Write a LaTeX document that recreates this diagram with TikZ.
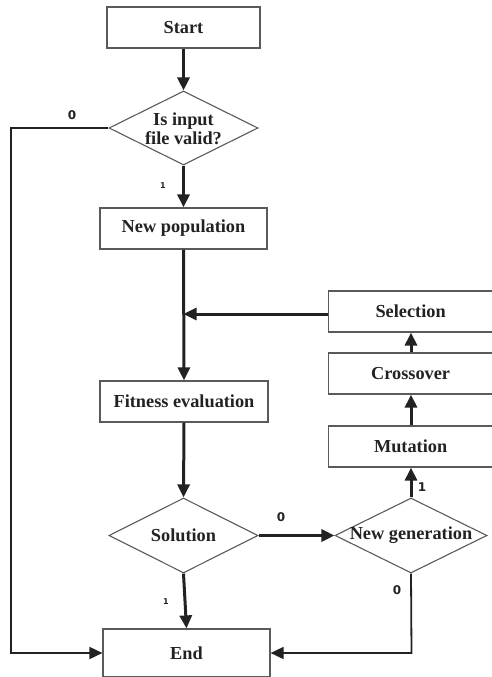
\documentclass[tikz,border=0pt]{standalone}
\usepackage{fontspec}
\setmainfont{Liberation Serif}
\newfontfamily\labelfont{DejaVu Sans}
\usetikzlibrary{arrows.meta,shapes.geometric}

\definecolor{edgegray}{HTML}{5A5A5A}
\definecolor{inkdark}{HTML}{222222}

\tikzset{
  boxtext/.style={font=\fontsize{18.3}{20}\selectfont\bfseries, text=inkdark},
  procbox/.style={draw=edgegray, line width=1.2pt, fill=white, inner sep=0pt, boxtext},
  decision/.style={diamond, draw=edgegray, line width=1.1pt, fill=white, inner sep=0pt},
  decisiontext/.style={boxtext, align=center, inner sep=0pt},
  flow/.style={draw=inkdark, line width=3pt, -{Triangle[length=13pt,width=12pt]}},
  loopline/.style={draw=inkdark, line width=1.8pt, -{Triangle[length=13pt,width=12pt]}},
  tag/.style={font=\labelfont\bfseries\fontsize{12}{12}\selectfont, text=inkdark, inner sep=0pt},
  smalltag/.style={font=\labelfont\bfseries\fontsize{8}{8}\selectfont, text=inkdark, inner sep=0pt},
}

\begin{document}
\begin{tikzpicture}[x=1pt,y=-1pt]
  \useasboundingbox (0,0) rectangle (492,677);
  \clip (0,0) rectangle (492,677);

  % main column
  \node[procbox, minimum width=153pt, minimum height=41pt] (start) at (183.5,27.5) {Start};
  \node[decision, minimum width=149pt, minimum height=74pt] (valid) at (183.5,128) {};
  \node[decisiontext] (validtext) at (183.5,129) {Is input\\[-1pt]file valid?};
  \node[procbox, minimum width=167pt, minimum height=41pt] (newpop) at (183.5,228.5) {New population};
  \node[procbox, minimum width=168pt, minimum height=41pt] (fitness) at (184,401.5) {Fitness evaluation};
  \node[decision, minimum width=149pt, minimum height=75pt] (solution) at (183.5,535.5) {};
  \node[decisiontext] (solutiontext) at (183.5,535.5) {Solution};
  \node[procbox, minimum width=167pt, minimum height=48pt] (end) at (186.5,653) {End};

  % genetic operators column
  \node[procbox, minimum width=180pt, minimum height=41pt, anchor=west] (selection) at (328,311.5) {\hspace{-16pt}Selection};
  \node[procbox, minimum width=180pt, minimum height=41pt, anchor=west] (crossover) at (328,373.5) {\hspace{-16pt}Crossover};
  \node[procbox, minimum width=180pt, minimum height=41pt, anchor=west] (mutation) at (328,446.5) {\hspace{-16pt}Mutation};
  \node[decision, minimum width=152pt, minimum height=75pt] (newgen) at (411,535.5) {};
  \node[decisiontext] (newgentext) at (411,535.5) {New generation};

  \coordinate (join) at (183.5,314);
  \coordinate (leftrail) at (11,128);
  \coordinate (leftbottom) at (11,653);
  \coordinate (rightbottom) at (411.5,653);

  % forward flow
  \draw[flow] (start.south) -- (valid.north);
  \draw[flow] (valid.south) -- (newpop.north);
  \draw[flow] (newpop.south) -- (fitness.north);
  \draw[flow] (fitness.south) -- (solution.north);
  \draw[flow] (solution.south) -- (end.north);
  \draw[flow] (solution.east) -- (newgen.west);
  \draw[flow] (newgen.north) -- (newgen.north |- mutation.south);
  \draw[flow] (mutation.north -| newgen.north) -- (crossover.south -| newgen.north);
  \draw[flow] (crossover.north -| newgen.north) -- (selection.south -| newgen.north);
  \draw[flow] (selection.west |- join) -- (join);

  % exits to End
  \draw[loopline] (valid.west) -- (leftrail) -- (leftbottom) -- (end.west |- leftbottom);
  \draw[loopline] (newgen.south) -- (rightbottom) -- (end.east |- rightbottom);

  % branch labels
  \node[tag] (l0a) at (72,115) {0};
  \node[smalltag] (l1a) at (163,186) {1};
  \node[tag] (l0b) at (281,517) {0};
  \node[tag] (l1b) at (422,487) {1};
  \node[tag] (l0c) at (397,590) {0};
  \node[smalltag] (l1c) at (166,602) {1};
\end{tikzpicture}
\end{document}
